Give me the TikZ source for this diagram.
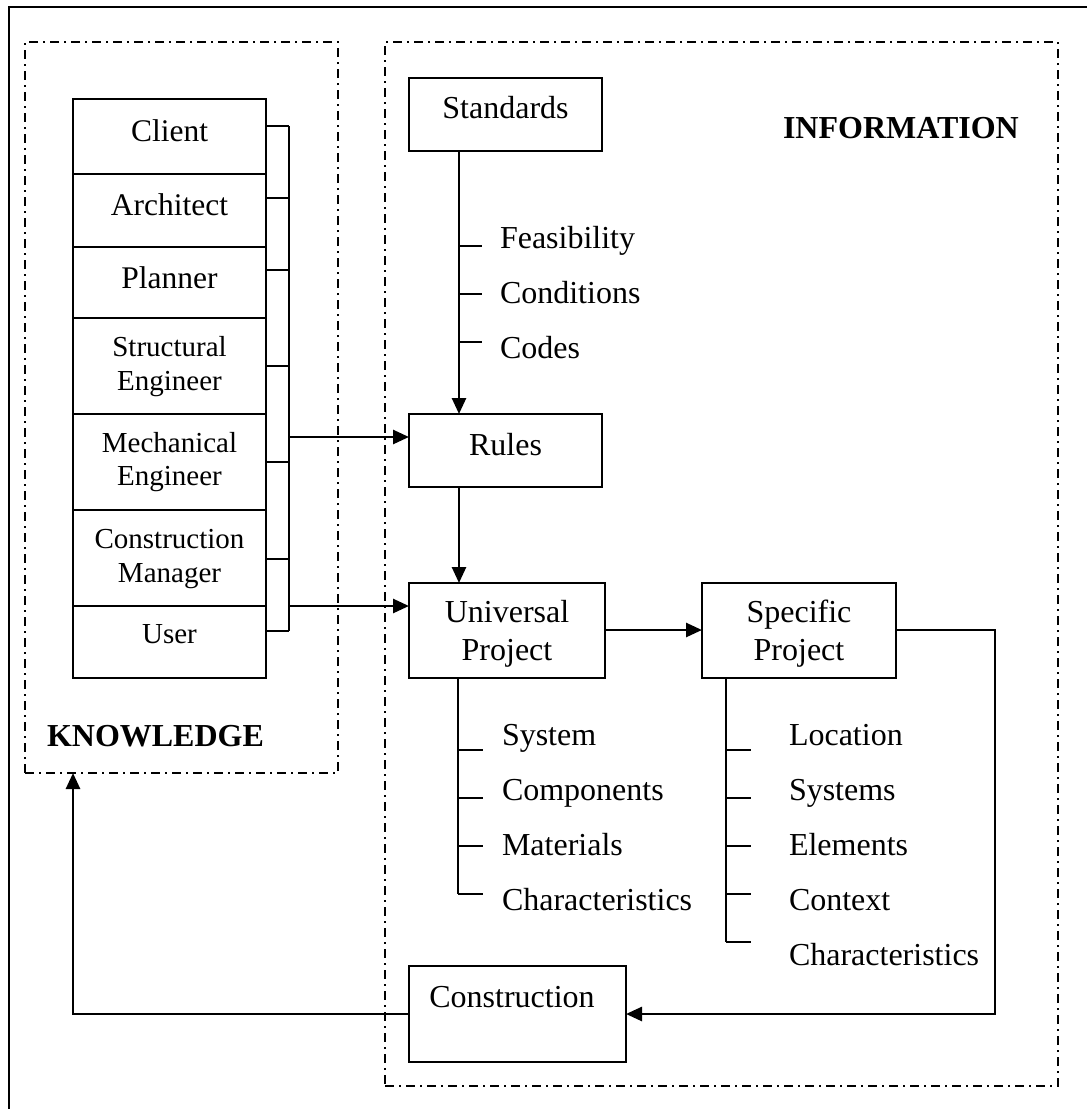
\documentclass[tikz,border=0pt]{standalone}
\usepackage{fontspec}
\setmainfont{Liberation Serif}
\usetikzlibrary{arrows.meta}
\begin{document}
\begin{tikzpicture}[x=1pt,y=-1pt,
  every node/.style={inner sep=0pt, outer sep=0pt},
  box/.style={draw, line width=2.2pt, rectangle, anchor=north west},
  region/.style={draw, rectangle, anchor=north west, line width=2pt,
                 dash pattern=on 9pt off 5pt on 2pt off 5pt},
  txt/.style={anchor=base, font=\fontsize{32}{38}\selectfont},
  txtl/.style={anchor=base west, font=\fontsize{32}{38}\selectfont},
  role/.style={anchor=base, font=\fontsize{31.5}{36}\selectfont},
  rolesm/.style={anchor=base, font=\fontsize{29}{34}\selectfont},
  head/.style={anchor=base west, font=\fontsize{32}{38}\selectfont\bfseries},
  wire/.style={line width=2.2pt},
  flow/.style={line width=2.6pt, -{Triangle[length=16pt,width=14pt]}},
]
\useasboundingbox (0,0) rectangle (1087,1109);

% outer frame
\draw[wire] (9,1109) -- (9,7) -- (1087,7);

% the two regions
\node[region, minimum width=313pt, minimum height=731pt] (know) at (25,42) {};
\node[region, minimum width=673pt, minimum height=1044pt] (info) at (385,42) {};
\node[head] (knowlabel) at (47,746) {KNOWLEDGE};
\node[head] (infolabel) at (783,138) {INFORMATION};

% stack of participants
\node[box, minimum width=193pt, minimum height=75pt] (client)     at (73,99)  {};
\node[box, minimum width=193pt, minimum height=73pt] (architect)  at (73,174) {};
\node[box, minimum width=193pt, minimum height=71pt] (planner)    at (73,247) {};
\node[box, minimum width=193pt, minimum height=96pt] (structural) at (73,318) {};
\node[box, minimum width=193pt, minimum height=96pt] (mechanical) at (73,414) {};
\node[box, minimum width=193pt, minimum height=96pt] (manager)    at (73,510) {};
\node[box, minimum width=193pt, minimum height=72pt] (user)       at (73,606) {};

\node[role]   (tclient)    at (169.5,141) {Client};
\node[role]   (tarchitect) at (169.5,215) {Architect};
\node[role]   (tplanner)   at (169.5,288) {Planner};
\node[rolesm] (tstruct1)   at (169.5,356) {Structural};
\node[rolesm] (tstruct2)   at (169.5,390) {Engineer};
\node[rolesm] (tmech1)     at (169.5,452) {Mechanical};
\node[rolesm] (tmech2)     at (169.5,485) {Engineer};
\node[rolesm] (tman1)      at (169.5,548) {Construction};
\node[rolesm] (tman2)      at (169.5,582) {Manager};
\node[rolesm] (tuser)      at (169.5,643) {User};

% bus joining the participants
\coordinate (bustop) at (289,126);
\coordinate (busbot) at (289,631);
\draw[wire] (bustop) -- (busbot);
\foreach \n/\y in {client/126, architect/198, planner/270, structural/366,
                   mechanical/462, manager/559, user/631}
  \draw[wire] (\n.east |- 0,\y) -- (289,\y);

% information boxes
\node[box, minimum width=193pt, minimum height=73pt] (std)    at (409,78)  {};
\node[box, minimum width=193pt, minimum height=73pt] (rules)  at (409,414) {};
\node[box, minimum width=196pt, minimum height=95pt] (univ)   at (409,583) {};
\node[box, minimum width=194pt, minimum height=95pt] (spec)   at (702,583) {};
\node[box, minimum width=217pt, minimum height=96pt] (constr) at (409,966) {};

\node[txt] (tstd)    at (505.5,118) {Standards};
\node[txt] (trules)  at (505.5,455) {Rules};
\node[txt] (tuniv1)  at (507,622)   {Universal};
\node[txt] (tuniv2)  at (507,660)   {Project};
\node[txt] (tspec1)  at (799,622)   {Specific};
\node[txt] (tspec2)  at (799,660)   {Project};
\node[txt] (tconstr) at (512,1007)  {Construction};

% flows
\coordinate (busA) at (289,437);
\coordinate (busB) at (289,606);
\draw[flow] (busA) -- (rules.west |- busA);
\draw[flow] (busB) -- (univ.west |- busB);
\draw[flow] (std.south -| 459,0) -- (rules.north -| 459,0);
\draw[flow] (rules.south -| 459,0) -- (univ.north -| 459,0);
\draw[flow] (univ.east |- 0,630) -- (spec.west |- 0,630);
\coordinate (turn) at (995,1014);
\draw[flow] (spec.east |- 0,630) -| (turn) -- (constr.east |- turn);
\coordinate (back) at (73,1014);
\draw[flow] (constr.west |- back) -- (back) -- (know.south -| back);

% standards: list
\foreach \y in {246,294,342} \draw[wire] (459,\y) -- (482,\y);
\node[txtl] (feas) at (500,248) {Feasibility};
\node[txtl] (cond) at (500,303) {Conditions};
\node[txtl] (code) at (500,358) {Codes};

% universal project: list
\draw[wire] (univ.south -| 458,0) -- (458,894);
\foreach \y in {750,798,846,894} \draw[wire] (458,\y) -- (483,\y);
\node[txtl] (usys)  at (502,745) {System};
\node[txtl] (ucomp) at (502,800) {Components};
\node[txtl] (umat)  at (502,855) {Materials};
\node[txtl] (uchar) at (502,910) {Characteristics};

% specific project: list
\draw[wire] (spec.south -| 726,0) -- (726,942);
\foreach \y in {750,798,846,894,942} \draw[wire] (726,\y) -- (751,\y);
\node[txtl] (sloc)  at (789,745) {Location};
\node[txtl] (ssys)  at (789,800) {Systems};
\node[txtl] (selem) at (789,855) {Elements};
\node[txtl] (scont) at (789,910) {Context};
\node[txtl] (schar) at (789,965) {Characteristics};
\end{tikzpicture}
\end{document}
